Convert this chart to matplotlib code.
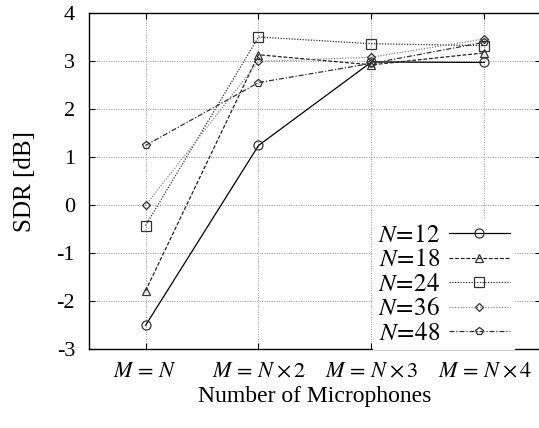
import numpy as np
import matplotlib.pyplot as plt

plt.rcParams['font.family'] = 'Liberation Serif'
plt.rcParams['mathtext.fontset'] = 'stix'

conditions = [r'$M\,{=}\,N$', r'$M\,{=}\,N\times2$', r'$M\,{=}\,N\times3$', r'$M\,{=}\,N\times4$']
labels = [r'$N\!=\!12$', r'$N\!=\!18$', r'$N\!=\!24$', r'$N\!=\!36$', r'$N\!=\!48$']
sdr_12 = [-2.51, 1.24, 2.98, 2.97]
sdr_18 = [-1.79, 3.13, 2.92, 3.17]
sdr_24 = [-0.43, 3.50, 3.36, 3.32]
sdr_36 = [-0.01, 2.99, 3.08, 3.46]
sdr_48 = [1.24, 2.55, 2.95, 3.39]

series = [sdr_12, sdr_18, sdr_24, sdr_36, sdr_48]
markers = ['o', '^', 's', 'D', 'p']
msizes = [6.5, 6, 6.5, 4, 6]
styles = ['-', (0, (3, 1.5)), (0, (1, 1.2)), (0, (1, 1.2)), (0, (4, 1.5, 1, 1.5))]
colors = ['black', '#222222', '#333333', '#888888', '#333333']

fig = plt.figure(figsize=(5.39, 4.28), dpi=100)
ax = fig.add_axes([89/539, 79/428, 452/539, 336/428])
x = np.arange(1, 5)
for vals, lab, m, ms, ls, c in zip(series, labels, markers, msizes, styles, colors):
    ax.plot(x, vals, linestyle=ls, color=c, lw=0.9, marker=m, markersize=ms,
            markerfacecolor='none', markeredgecolor='#333333', markeredgewidth=0.9, label=lab)

ax.set_xlim(0.5, 4.5)
ax.set_ylim(-3, 4)
ax.set_xticks(x)
ax.set_xticklabels(conditions, fontsize=16)
ax.set_yticks(range(-3, 5))
ax.set_yticklabels([str(v) for v in range(-3, 5)], fontsize=16)
ax.tick_params(direction='in', top=True, right=True, length=4, width=0.8)
ax.tick_params(axis='y', pad=10)
ax.tick_params(axis='x', pad=10)
ax.grid(True, linestyle=(0, (1, 1.5)), color='#999999', lw=0.7)
for s in ax.spines.values():
    s.set_linewidth(1.0)
ax.set_xlabel('Number of Microphones', fontsize=17, labelpad=3)
ax.set_ylabel('SDR [dB]', fontsize=18, labelpad=15)

leg = ax.legend(loc='lower right', bbox_to_anchor=(0.97, -0.04), markerfirst=False,
                fontsize=18, frameon=True, fancybox=False, framealpha=1,
                edgecolor='white', handlelength=2.45, handletextpad=0.35,
                labelspacing=0.08, borderpad=0.2)
leg.get_frame().set_linewidth(0)

fig.savefig('out.png', dpi=100)
